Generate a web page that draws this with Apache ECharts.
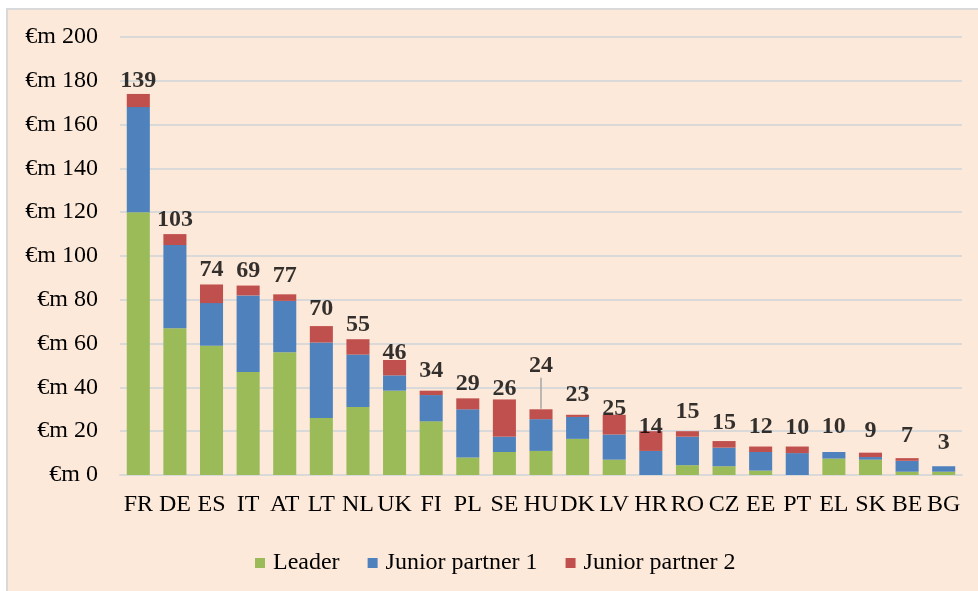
<!DOCTYPE html>
<html>
<head>
<meta charset="utf-8">
<script src="https://cdn.jsdelivr.net/npm/echarts@6/dist/echarts.min.js"></script>
<style>
  html, body { margin: 0; padding: 0; background: #ffffff; }
  #frame { position: absolute; left: 6px; top: 8px; width: 980px; height: 600px;
           background: #FDE9D9; border-left: 2px solid #D9D9D9; border-top: 2px solid #D9D9D9; }
  #chart { position: absolute; left: 0; top: 0; width: 978px; height: 591px; }
</style>
</head>
<body>
<div id="frame"></div>
<div id="chart"></div>
<script>
const categories = ['FR','DE','ES','IT','AT','LT','NL','UK','FI','PL','SE','HU','DK','LV','HR','RO','CZ','EE','PT','EL','SK','BE','BG'];
const leader   = [120, 67, 59, 47, 56, 26, 31, 38.5, 24.5, 8, 10.5, 11, 16.5, 7, 0, 4.5, 4, 2, 0, 7.5, 7, 1.5, 1.5];
const junior1  = [48, 38, 19.5, 35, 23.5, 34.5, 24, 7, 12, 22, 7, 14.5, 10, 11.5, 11, 13, 8.5, 8.5, 10, 3, 1.2, 5, 2.5];
const junior2  = [6, 5, 8.5, 4.5, 3, 7.5, 7, 7, 2, 5, 17, 4.5, 1, 9, 9, 2.5, 3, 2.5, 3, 0, 2, 1.2, 0];
const topLabels = [139, 103, 74, 69, 77, 70, 55, 46, 34, 29, 26, 24, 23, 25, 14, 15, 15, 12, 10, 10, 9, 7, 3];
const yTicks = [0, 20, 40, 60, 80, 100, 120, 140, 160, 180, 200];

// label vertical nudges (layout only)
const labelNudge = [1,0,0,0,-4,-3,0,7,-5,0,4,-29,-5,9,10,-5,-4,-5,-4,-11,-7,-8,-9];

const totals = categories.map((c, i) => leader[i] + junior1[i] + junior2[i]);
const FONT = '"Liberation Serif", "Times New Roman", serif';

const chart = echarts.init(document.getElementById('chart'), null, { renderer: 'canvas' });
chart.setOption({
  backgroundColor: 'transparent',
  animation: false,
  grid: { left: 120, right: 16, top: 37, bottom: 116 },
  legend: {
    data: ['Leader', 'Junior partner 1', 'Junior partner 2'],
    top: 546, left: 250,
    itemWidth: 10, itemHeight: 10, itemGap: 28,
    icon: 'rect',
    textStyle: { fontFamily: FONT, fontSize: 24, color: '#000', padding: [0, 0, 0, 3] }
  },
  xAxis: {
    type: 'category',
    data: categories,
    axisLine: { lineStyle: { color: '#D9D9D9', width: 2 } },
    axisTick: { show: false },
    axisLabel: { interval: 0, margin: 18, fontFamily: FONT, fontSize: 24, color: '#000' }
  },
  yAxis: {
    type: 'value',
    min: yTicks[0], max: yTicks[yTicks.length - 1], interval: yTicks[1] - yTicks[0],
    axisLine: { show: false },
    axisTick: { show: false },
    splitLine: { lineStyle: { color: '#D9D9D9', width: 2 } },
    axisLabel: { margin: 22, fontFamily: FONT, fontSize: 24, color: '#000',
                 formatter: v => '€m ' + v }
  },
  series: [
    { name: 'Leader', type: 'bar', stack: 'a', data: leader, barWidth: '63%',
      itemStyle: { color: '#9BBB59' } },
    { name: 'Junior partner 1', type: 'bar', stack: 'a', data: junior1,
      itemStyle: { color: '#4F81BD' } },
    { name: 'Junior partner 2', type: 'bar', stack: 'a', data: junior2,
      itemStyle: { color: '#C0504D' } },
    { name: 'labels', type: 'scatter', symbolSize: 1, silent: true,
      itemStyle: { color: 'rgba(0,0,0,0)' },
      data: totals.map((t, i) => ({
        value: t,
        labelLine: { show: labelNudge[i] < -20, lineStyle: { color: '#A6A6A6', width: 1.5 } }
      })),
      label: { show: true, position: 'top', distance: 2,
               fontFamily: FONT, fontSize: 24, fontWeight: 'bold', color: '#000',
               formatter: p => topLabels[p.dataIndex] },
      labelLine: { show: false, length2: 0 },
      labelLayout: p => ({ dy: labelNudge[p.dataIndex] })
    }
  ]
});
</script>
</body>
</html>
